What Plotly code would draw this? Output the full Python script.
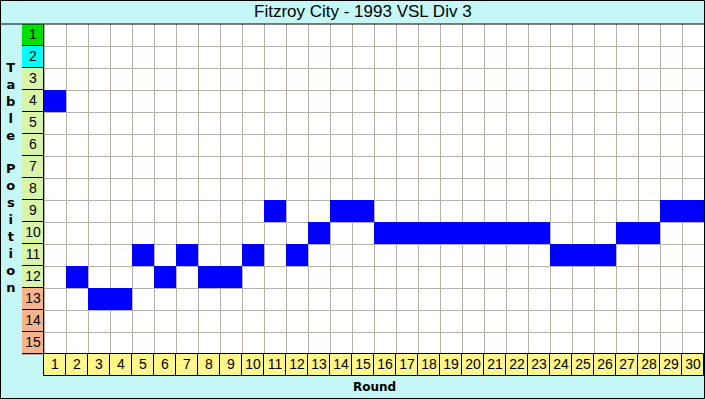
import plotly.graph_objects as go

# ---- data ----
rounds = list(range(1, 31))
positions = [4, 12, 13, 13, 11, 12, 11, 12, 12, 11, 9, 11, 10, 9, 9,
             10, 10, 10, 10, 10, 10, 10, 10, 11, 11, 11, 10, 10, 9, 9]
table_rows = list(range(1, 16))
row_colors = (["#00e000", "#00ffff"] + ["#d9f5aa"] * 10 + ["#f6b48e"] * 3)
title = "Fitzroy City - 1993 VSL Div 3"

W, H = 705, 399
L, R, T, B = 22, 1, 24, 23
PW, PH = W - L - R, H - T - B

fig = go.Figure()

# row label cells
fig.add_trace(go.Bar(
    x=[0] * len(table_rows), y=[1] * len(table_rows),
    base=[r - 0.5 for r in table_rows], width=1,
    marker=dict(color=row_colors, line=dict(color="black", width=1)),
    hoverinfo="skip", showlegend=False))
fig.add_trace(go.Scatter(
    x=[0] * len(table_rows), y=table_rows, mode="text",
    text=[str(r) for r in table_rows],
    textfont=dict(family="Liberation Sans, Arial", size=14, color="black"),
    hoverinfo="skip", showlegend=False))

# round label cells
fig.add_trace(go.Bar(
    x=rounds, y=[1] * len(rounds), base=[15.5] * len(rounds), width=1,
    marker=dict(color="#fff68c", line=dict(color="black", width=1)),
    hoverinfo="skip", showlegend=False))
fig.add_trace(go.Scatter(
    x=rounds, y=[16] * len(rounds), mode="text",
    text=[str(r) for r in rounds],
    textfont=dict(family="Liberation Sans, Arial", size=14, color="black"),
    hoverinfo="skip", showlegend=False))

# position cells
fig.add_trace(go.Bar(
    x=rounds, y=[1] * len(rounds), base=[p - 0.5 for p in positions], width=1,
    marker=dict(color="#0000ff", line=dict(width=0)),
    hoverinfo="skip", showlegend=False))

def px_x(p):
    return (p - L) / PW

def px_y(p):
    return (H - B - p) / PH

shapes = [
    dict(type="rect", xref="x", yref="y", x0=0.5, x1=30.5, y0=0.5, y1=15.5,
         fillcolor="white", line=dict(width=0), layer="below"),
    dict(type="line", xref="paper", yref="paper", x0=px_x(0), x1=px_x(W),
         y0=1, y1=1, line=dict(color="black", width=1)),
    dict(type="rect", xref="paper", yref="paper", x0=px_x(0.5), x1=px_x(W - 0.5),
         y0=px_y(H - 0.5), y1=px_y(0.5), line=dict(color="black", width=1)),
]

annotations = [
    dict(text=title, xref="paper", yref="paper", x=0.5, y=px_y(12),
         xanchor="center", yanchor="middle", showarrow=False,
         font=dict(family="Liberation Sans, Arial", size=17, color="black")),
    dict(text="Round", xref="paper", yref="paper", x=px_x(374), y=px_y(387),
         xanchor="center", yanchor="middle", showarrow=False,
         font=dict(family="DejaVu Sans, Arial", size=12, color="black", weight="bold")),
    dict(text="<br>".join(list("Table Position")), xref="paper", yref="paper",
         x=px_x(11), y=px_y(177), xanchor="center", yanchor="middle",
         showarrow=False, align="center",
         font=dict(family="DejaVu Sans, Arial", size=13, color="black", weight="bold")),
]

fig.update_layout(
    width=W, height=H, autosize=False,
    margin=dict(l=L, r=R, t=T, b=B, pad=0),
    paper_bgcolor="#c6f7f7", plot_bgcolor="#c6f7f7",
    barmode="overlay", bargap=0,
    shapes=shapes, annotations=annotations,
    xaxis=dict(range=[-0.5, 30.5], tickvals=[i + 0.5 for i in range(0, 31)],
               showticklabels=False, ticks="", showgrid=True,
               gridcolor="#b5b1a6", gridwidth=1, zeroline=False, fixedrange=True),
    yaxis=dict(range=[16.5, 0.5], tickvals=[i + 0.5 for i in range(0, 16)],
               showticklabels=False, ticks="", showgrid=True,
               gridcolor="#b5b1a6", gridwidth=1, zeroline=False, fixedrange=True),
)

fig.write_html("out.html", config={"displayModeBar": False},
               post_script="document.body.style.margin='0';document.body.style.overflow='hidden';")
